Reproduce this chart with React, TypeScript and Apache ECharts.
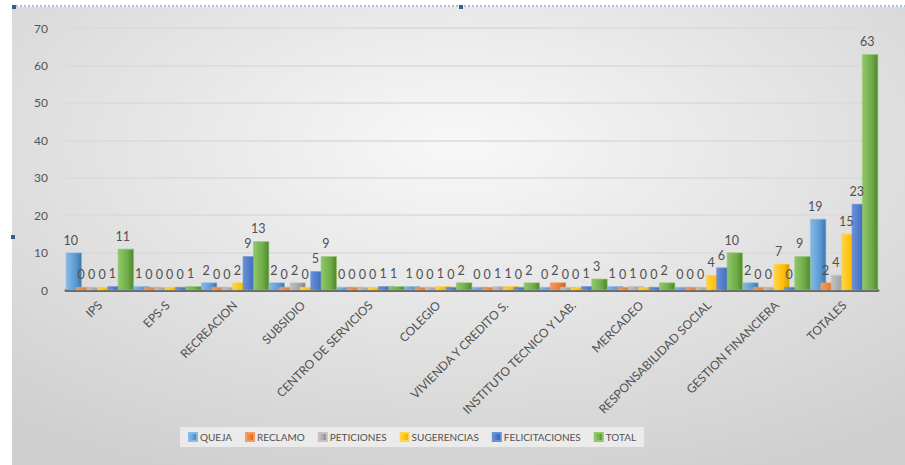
import React, { useEffect, useRef } from "react";
import * as echarts from "echarts";

const categories = [
  "IPS",
  "EPS-S",
  "RECREACION",
  "SUBSIDIO",
  "CENTRO DE SERVICIOS",
  "COLEGIO",
  "VIVIENDA Y CREDITO S.",
  "INSTITUTO TECNICO Y LAB.",
  "MERCADEO",
  "RESPONSABILIDAD SOCIAL",
  "GESTION FINANCIERA",
  "TOTALES",
];

const queja = [10, 1, 2, 2, 0, 1, 0, 0, 1, 0, 2, 19];
const reclamo = [0, 0, 0, 0, 0, 0, 0, 2, 0, 0, 0, 2];
const peticiones = [0, 0, 0, 2, 0, 0, 1, 0, 1, 0, 0, 4];
const sugerencias = [0, 0, 2, 0, 0, 1, 1, 0, 0, 4, 7, 15];
const felicitaciones = [1, 0, 9, 5, 1, 0, 0, 1, 0, 6, 0, 23];
const total = [11, 1, 13, 9, 1, 2, 2, 3, 2, 10, 9, 63];

const seriesNames = ["QUEJA", "RECLAMO", "PETICIONES", "SUGERENCIAS", "FELICITACIONES", "TOTAL"];
const seriesData = [queja, reclamo, peticiones, sugerencias, felicitaciones, total];

const yTicks = [0, 10, 20, 30, 40, 50, 60, 70];

// [light, base, dark]
const palette = [
  ["#86b9e6", "#5B9BD5", "#3b76ad"],
  ["#f39b62", "#ED7D31", "#c0601f"],
  ["#c2c2c2", "#A5A5A5", "#7d7d7d"],
  ["#ffd44d", "#FFC000", "#d29d00"],
  ["#6a91d6", "#4472C4", "#2d5394"],
  ["#8fc76a", "#70AD47", "#4f8530"],
];

const FONT = "Lato, 'Liberation Sans', sans-serif";

export default function App() {
  const ref = useRef<HTMLDivElement>(null);

  useEffect(() => {
    if (!ref.current) return;
    const chart = echarts.init(ref.current, null, { renderer: "svg" });

    const series = seriesNames.map((name, i) => ({
      name,
      type: "bar",
      data: seriesData[i],
      barWidth: 16,
      barGap: "-35%",
      barMinHeight: 3,
      itemStyle: {
        color: {
          type: "linear",
          x: 0,
          y: 0,
          x2: 1,
          y2: 0,
          colorStops: [
            { offset: 0, color: palette[i][0] },
            { offset: 0.6, color: palette[i][1] },
            { offset: 1, color: palette[i][2] },
          ],
        },
        borderColor: palette[i][0],
        borderWidth: 0.6,
      },
      label: {
        show: true,
        position: "top",
        distance: 6,
        color: "#505050",
        fontSize: 12.5,
        fontFamily: FONT,
        offset: [-3, 0],
      },
    }));

    chart.setOption({
      animation: false,
      backgroundColor: "#ffffff",
      color: palette.map((p) => p[1]),
      graphic: [
        {
          type: "rect",
          z: -100,
          silent: true,
          shape: { x: 12, y: 7, width: 893, height: 458 },
          style: {
            fill: {
              type: "radial",
              x: 0.5,
              y: 0.3,
              r: 0.8,
              colorStops: [
                { offset: 0, color: "#f8f8f8" },
                { offset: 1, color: "#cecece" },
              ],
            },
          },
        },
        {
          type: "line",
          silent: true,
          shape: { x1: 12, y1: 6, x2: 905, y2: 6 },
          style: { stroke: "#8eaed3", lineWidth: 1.5, lineDash: [2, 2] },
        },
        {
          type: "rect",
          silent: true,
          shape: { x: 12, y: 5, width: 4, height: 4 },
          style: { fill: "#3b5b8f" },
        },
        {
          type: "rect",
          silent: true,
          shape: { x: 459, y: 5, width: 4, height: 4 },
          style: { fill: "#3b5b8f" },
        },
        {
          type: "rect",
          silent: true,
          shape: { x: 11, y: 235, width: 4, height: 4 },
          style: { fill: "#3b5b8f" },
        },
      ],
      legend: {
        data: seriesNames,
        left: 180,
        top: 427,
        icon: "rect",
        itemWidth: 8,
        itemHeight: 8,
        itemGap: 13,
        backgroundColor: "rgba(238,238,238,0.85)",
        padding: [5, 8],
        textStyle: { color: "#505050", fontSize: 10, fontFamily: FONT, padding: [0, 0, 0, -2] },
      },
      grid: {
        left: 66,
        right: 27,
        top: 28,
        bottom: 175,
        containLabel: false,
      },
      xAxis: {
        type: "category",
        data: categories,
        axisLine: { show: true, lineStyle: { color: "#6a6a6a", width: 3 } },
        axisTick: { show: false },
        axisLabel: {
          interval: 0,
          rotate: 45,
          margin: 13,
          color: "#505050",
          fontSize: 12,
          fontFamily: FONT,
        },
      },
      yAxis: {
        type: "value",
        min: yTicks[0],
        max: yTicks[yTicks.length - 1],
        interval: 10,
        axisLine: { show: false },
        axisTick: { show: false },
        axisLabel: { color: "#555555", fontSize: 12, fontFamily: FONT, margin: 18 },
        splitLine: { lineStyle: { color: "#dadada", width: 1.5 } },
      },
      series,
    });

    return () => chart.dispose();
  }, []);

  return (
    <div
      ref={ref}
      style={{ position: "fixed", left: 0, top: 0, width: 905, height: 465 }}
    />
  );
}
